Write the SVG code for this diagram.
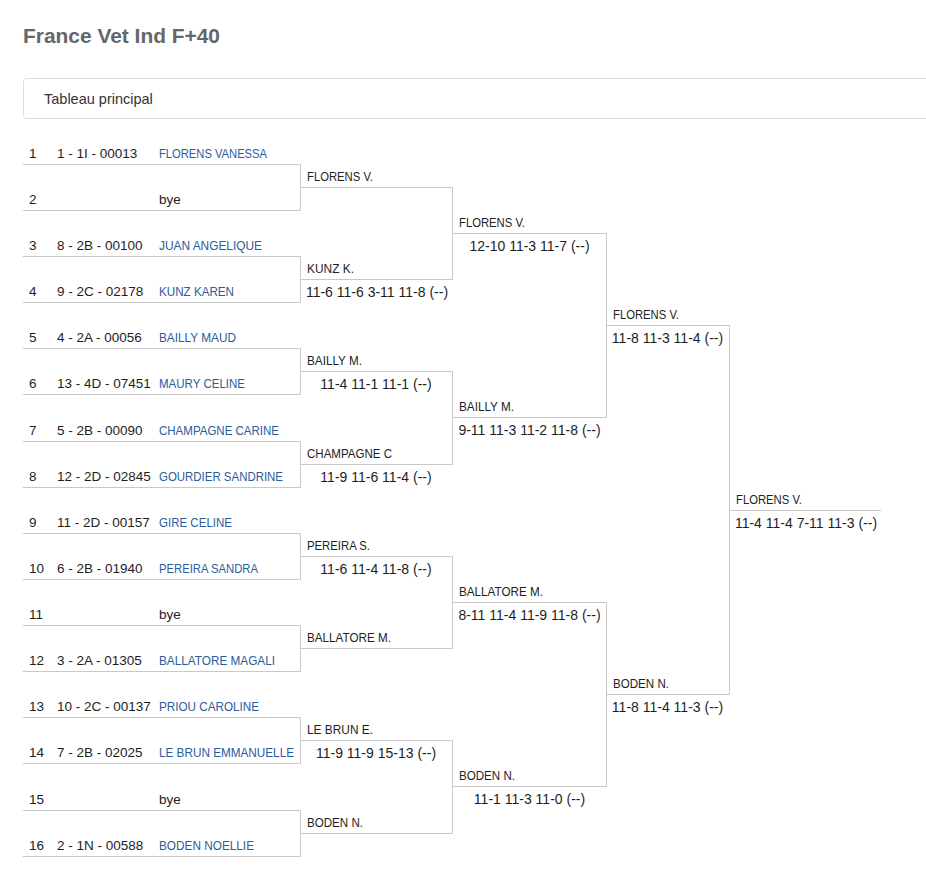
<svg xmlns="http://www.w3.org/2000/svg" width="926" height="874" viewBox="0 0 926 874">
<style>
text{font-family:"Liberation Sans",Arial,sans-serif;font-size:13.5px;fill:#1e1e1e}
.title{font-size:21px;font-weight:bold;fill:#666}
.tab{font-size:14.5px;fill:#333}
.nm{fill:#2b5c9c}
.sc{text-anchor:middle;font-size:14px}
.ln{stroke:#c8c8c8;stroke-width:1;fill:none}
</style>
<rect width="926" height="874" fill="#fff"/>
<text class="title" x="23" y="43" textLength="197" lengthAdjust="spacingAndGlyphs">France Vet Ind F+40</text>
<g id="tab-header">
<rect x="23.5" y="78.5" width="930" height="40" rx="3" fill="#fff" stroke="#ddd"/>
<text class="tab" x="44" y="104">Tableau principal</text>
</g>
<g id="connectors" class="ln">
<path d="M23 164.5H300.5V210.5H23M23 256.5H300.5V302.5H23M23 348.5H300.5V394.5H23M23 441.5H300.5V487.5H23M23 533.5H300.5V579.5H23M23 625.5H300.5V671.5H23M23 717.5H300.5V763.5H23M23 810.5H300.5V856.5H23"/>
<path d="M300 187.5H452.5V279.5H300M300 371.5H452.5V464.5H300M300 556.5H452.5V648.5H300M300 740.5H452.5V833.5H300"/>
<path d="M452 233.5H606.5V417.5H452M452 602.5H606.5V786.5H452"/>
<path d="M606 325.5H729.5V694.5H606"/>
<path d="M729 510.5H881"/>
</g>
<g id="p1"><text x="29" y="158">1</text><text x="57" y="158">1 - 1I - 00013</text><text class="nm" x="159" y="158" textLength="108" lengthAdjust="spacingAndGlyphs">FLORENS VANESSA</text></g>
<g id="p2"><text x="29" y="204">2</text><text x="159" y="204">bye</text></g>
<g id="p3"><text x="29" y="250">3</text><text x="57" y="250">8 - 2B - 00100</text><text class="nm" x="159" y="250" textLength="103" lengthAdjust="spacingAndGlyphs">JUAN ANGELIQUE</text></g>
<g id="p4"><text x="29" y="296">4</text><text x="57" y="296">9 - 2C - 02178</text><text class="nm" x="159" y="296" textLength="75" lengthAdjust="spacingAndGlyphs">KUNZ KAREN</text></g>
<g id="p5"><text x="29" y="342">5</text><text x="57" y="342">4 - 2A - 00056</text><text class="nm" x="159" y="342" textLength="77" lengthAdjust="spacingAndGlyphs">BAILLY MAUD</text></g>
<g id="p6"><text x="29" y="388">6</text><text x="57" y="388">13 - 4D - 07451</text><text class="nm" x="159" y="388" textLength="86" lengthAdjust="spacingAndGlyphs">MAURY CELINE</text></g>
<g id="p7"><text x="29" y="435">7</text><text x="57" y="435">5 - 2B - 00090</text><text class="nm" x="159" y="435" textLength="120" lengthAdjust="spacingAndGlyphs">CHAMPAGNE CARINE</text></g>
<g id="p8"><text x="29" y="481">8</text><text x="57" y="481">12 - 2D - 02845</text><text class="nm" x="159" y="481" textLength="124" lengthAdjust="spacingAndGlyphs">GOURDIER SANDRINE</text></g>
<g id="p9"><text x="29" y="527">9</text><text x="57" y="527">11 - 2D - 00157</text><text class="nm" x="159" y="527" textLength="73" lengthAdjust="spacingAndGlyphs">GIRE CELINE</text></g>
<g id="p10"><text x="29" y="573">10</text><text x="57" y="573">6 - 2B - 01940</text><text class="nm" x="159" y="573" textLength="99" lengthAdjust="spacingAndGlyphs">PEREIRA SANDRA</text></g>
<g id="p11"><text x="29" y="619">11</text><text x="159" y="619">bye</text></g>
<g id="p12"><text x="29" y="665">12</text><text x="57" y="665">3 - 2A - 01305</text><text class="nm" x="159" y="665" textLength="116" lengthAdjust="spacingAndGlyphs">BALLATORE MAGALI</text></g>
<g id="p13"><text x="29" y="711">13</text><text x="57" y="711">10 - 2C - 00137</text><text class="nm" x="159" y="711" textLength="100" lengthAdjust="spacingAndGlyphs">PRIOU CAROLINE</text></g>
<g id="p14"><text x="29" y="757">14</text><text x="57" y="757">7 - 2B - 02025</text><text class="nm" x="159" y="757" textLength="135" lengthAdjust="spacingAndGlyphs">LE BRUN EMMANUELLE</text></g>
<g id="p15"><text x="29" y="804">15</text><text x="159" y="804">bye</text></g>
<g id="p16"><text x="29" y="850">16</text><text x="57" y="850">2 - 1N - 00588</text><text class="nm" x="159" y="850" textLength="95" lengthAdjust="spacingAndGlyphs">BODEN NOELLIE</text></g>
<g id="r2m1"><text x="307" y="181" textLength="66" lengthAdjust="spacingAndGlyphs">FLORENS V.</text></g>
<g id="r2m2"><text x="307" y="273" textLength="47" lengthAdjust="spacingAndGlyphs">KUNZ K.</text><text class="sc" x="377" y="297">11-6 11-6 3-11 11-8 (--)</text></g>
<g id="r2m3"><text x="307" y="365" textLength="55" lengthAdjust="spacingAndGlyphs">BAILLY M.</text><text class="sc" x="376" y="389">11-4 11-1 11-1 (--)</text></g>
<g id="r2m4"><text x="307" y="458" textLength="85" lengthAdjust="spacingAndGlyphs">CHAMPAGNE C</text><text class="sc" x="376" y="482">11-9 11-6 11-4 (--)</text></g>
<g id="r2m5"><text x="307" y="550" textLength="63" lengthAdjust="spacingAndGlyphs">PEREIRA S.</text><text class="sc" x="376" y="574">11-6 11-4 11-8 (--)</text></g>
<g id="r2m6"><text x="307" y="642" textLength="84" lengthAdjust="spacingAndGlyphs">BALLATORE M.</text></g>
<g id="r2m7"><text x="307" y="734" textLength="66" lengthAdjust="spacingAndGlyphs">LE BRUN E.</text><text class="sc" x="376" y="758">11-9 11-9 15-13 (--)</text></g>
<g id="r2m8"><text x="307" y="827" textLength="56" lengthAdjust="spacingAndGlyphs">BODEN N.</text></g>
<g id="r3m1"><text x="459" y="227" textLength="66" lengthAdjust="spacingAndGlyphs">FLORENS V.</text><text class="sc" x="529.5" y="251">12-10 11-3 11-7 (--)</text></g>
<g id="r3m2"><text x="459" y="411" textLength="55" lengthAdjust="spacingAndGlyphs">BAILLY M.</text><text class="sc" x="529.5" y="435">9-11 11-3 11-2 11-8 (--)</text></g>
<g id="r3m3"><text x="459" y="596" textLength="84" lengthAdjust="spacingAndGlyphs">BALLATORE M.</text><text class="sc" x="529.5" y="620">8-11 11-4 11-9 11-8 (--)</text></g>
<g id="r3m4"><text x="459" y="780" textLength="56" lengthAdjust="spacingAndGlyphs">BODEN N.</text><text class="sc" x="529.5" y="804">11-1 11-3 11-0 (--)</text></g>
<g id="r4m1"><text x="613" y="319" textLength="66" lengthAdjust="spacingAndGlyphs">FLORENS V.</text><text class="sc" x="667.5" y="343">11-8 11-3 11-4 (--)</text></g>
<g id="r4m2"><text x="613" y="688" textLength="56" lengthAdjust="spacingAndGlyphs">BODEN N.</text><text class="sc" x="667.5" y="712">11-8 11-4 11-3 (--)</text></g>
<g id="final"><text x="736" y="504" textLength="66" lengthAdjust="spacingAndGlyphs">FLORENS V.</text><text class="sc" x="806" y="528">11-4 11-4 7-11 11-3 (--)</text></g>
</svg>
